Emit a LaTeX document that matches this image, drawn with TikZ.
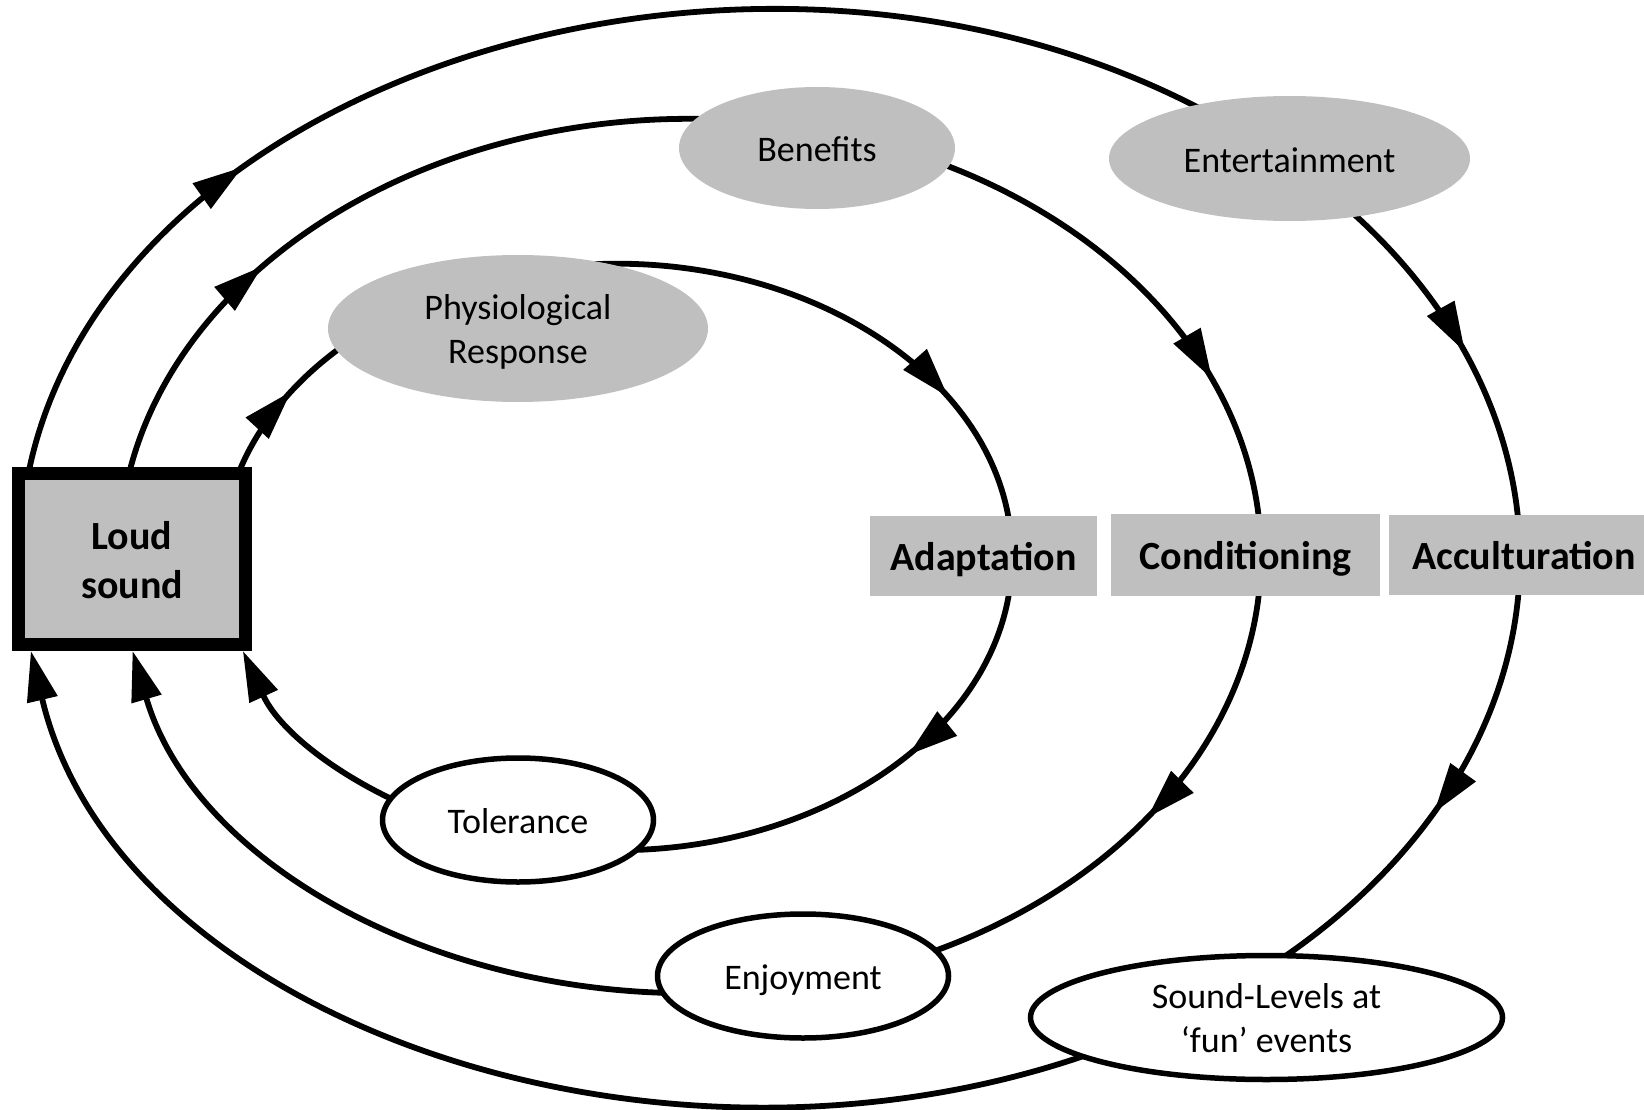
\documentclass[tikz,border=0pt]{standalone}
\usepackage{fontspec}
\setmainfont{Carlito}
\usetikzlibrary{shapes.geometric,arrows.meta,decorations.markings,calc}
\pgfdeclarelayer{back}
\pgfsetlayers{back,main}
\definecolor{fillgray}{RGB}{191,191,191}
\newcommand\labelfnt{\fontsize{36pt}{44pt}\selectfont}
\newcommand\stagefnt{\fontsize{40pt}{49pt}\selectfont\bfseries}

\begin{document}
\begin{tikzpicture}[x=1pt,y=-1pt,
  bighead/.tip={Triangle[length=50pt,width=30pt]},
  link/.style={line width=5.8pt},
  flowto/.style={postaction={decorate},
    decoration={markings,mark=at position #1 with {\arrow{bighead}}}},
  hub/.style={rectangle,draw,line width=13pt,fill=fillgray,inner sep=0pt,
    align=center,font=\stagefnt,text height=79pt,text depth=0pt},
  softoval/.style={ellipse,fill=fillgray,inner sep=0pt,align=center,font=\labelfnt},
  lineoval/.style={ellipse,draw,line width=5.5pt,fill=white,inner sep=0pt,
    align=center,font=\labelfnt},
  stage/.style={rectangle,fill=fillgray,inner sep=0pt,font=\stagefnt,
    text height=28pt,text depth=0pt},
  oneline/.style={text height=27.5pt,text depth=0pt},
  twoline/.style={text height=70pt,text depth=0pt}]
\useasboundingbox (0,0) rectangle (1644,1110);

% central source
\node[hub,minimum width=227pt,minimum height=171pt] (loud) at (132,559) {Loud\\sound};

% grey ovals on the upper arcs
\node[softoval,twoline,minimum width=380pt,minimum height=147pt] (phys) at (518,328.5) {Physiological\\Response};
\node[softoval,oneline,minimum width=276pt,minimum height=122pt] (ben) at (817,148) {Benefits};
\node[softoval,oneline,minimum width=361pt,minimum height=125pt] (ent) at (1289.5,158.5) {Entertainment};

% the three mechanisms
\node[stage,minimum width=227pt,minimum height=80pt] (adapt) at (983.5,556) {Adaptation};
\node[stage,minimum width=269pt,minimum height=82pt] (cond) at (1245.5,555) {Conditioning};
\node[stage,minimum width=270pt,minimum height=80pt] (acc) at (1524,555) {Acculturation};

% outlined ovals on the lower arcs
\node[lineoval,oneline,minimum width=271pt,minimum height=124pt] (tol) at (518,820) {Tolerance};
\node[lineoval,oneline,minimum width=291pt,minimum height=124pt] (enj) at (803,976) {Enjoyment};
\node[lineoval,twoline,minimum width=472pt,minimum height=124pt] (snd) at (1266.5,1017.5) {Sound-Levels at\\‘fun’ events};

\begin{pgfonlayer}{back}
% inner loop
\draw[link,flowto=.471] ($(loud.center)+(90,-2)$) .. controls (222,438.5) and (318.2,331.6) .. ($(phys.center)+(-52.2,-42.2)$);
\draw[link,flowto=.747] ($(phys.center)+(-52.2,-42.2)$) .. controls (725.9,206.4) and (1012,348.2) .. ($(adapt.center)+(28.5,1)$);
\draw[link,flowto=.354] ($(adapt.center)+(28.5,1)$) .. controls (1012,751.8) and (760.5,892.4) .. ($(tol.center)+(-9.9,18.7)$);
\draw[link,-bighead] ($(tol.center)+(-9.9,18.7)$) .. controls (383.5,812.2) and (284.5,742) .. ($(loud.south)+(110.9,0)$);
% middle loop
\draw[link,flowto=.361] ($(loud.center)+(-13,-3)$) .. controls (119,275) and (460.6,67.0) .. ($(ben.center)+(1.4,-17.8)$);
\draw[link,flowto=.721] ($(ben.center)+(1.4,-17.8)$) .. controls (1077.5,176.0) and (1261,352.5) .. ($(cond.center)+(15.5,1)$);
\draw[link,flowto=.429] ($(cond.center)+(15.5,1)$) .. controls (1261,764.1) and (1069.4,943.3) .. ($(enj.center)+(-0.1,8.4)$);
\draw[link,-bighead] ($(enj.center)+(-0.1,8.4)$) .. controls (498.2,1031.4) and (200.2,883.2) .. ($(loud.south)+(0.6,0)$);
% outer loop
\draw[link,flowto=.298] ($(loud.center)+(-112,-1)$) .. controls (20,78) and (804.5,-170.1) .. ($(ent.center)+(-6.1,0)$);
\draw[link,flowto=.554] ($(ent.center)+(-6.1,0)$) .. controls (1434.3,262.1) and (1520,406.7) .. ($(acc.center)+(-4,3)$);
\draw[link,flowto=.458] ($(acc.center)+(-4,3)$) .. controls (1520,741.5) and (1394.2,912.8) .. ($(snd.center)+(-81.5,-3.1)$);
\draw[link,-bighead] ($(snd.center)+(-81.5,-3.1)$) .. controls (733.5,1233.6) and (122.9,1041.3) .. ($(loud.south)+(-101.1,0)$);
\end{pgfonlayer}
\end{tikzpicture}
\end{document}
